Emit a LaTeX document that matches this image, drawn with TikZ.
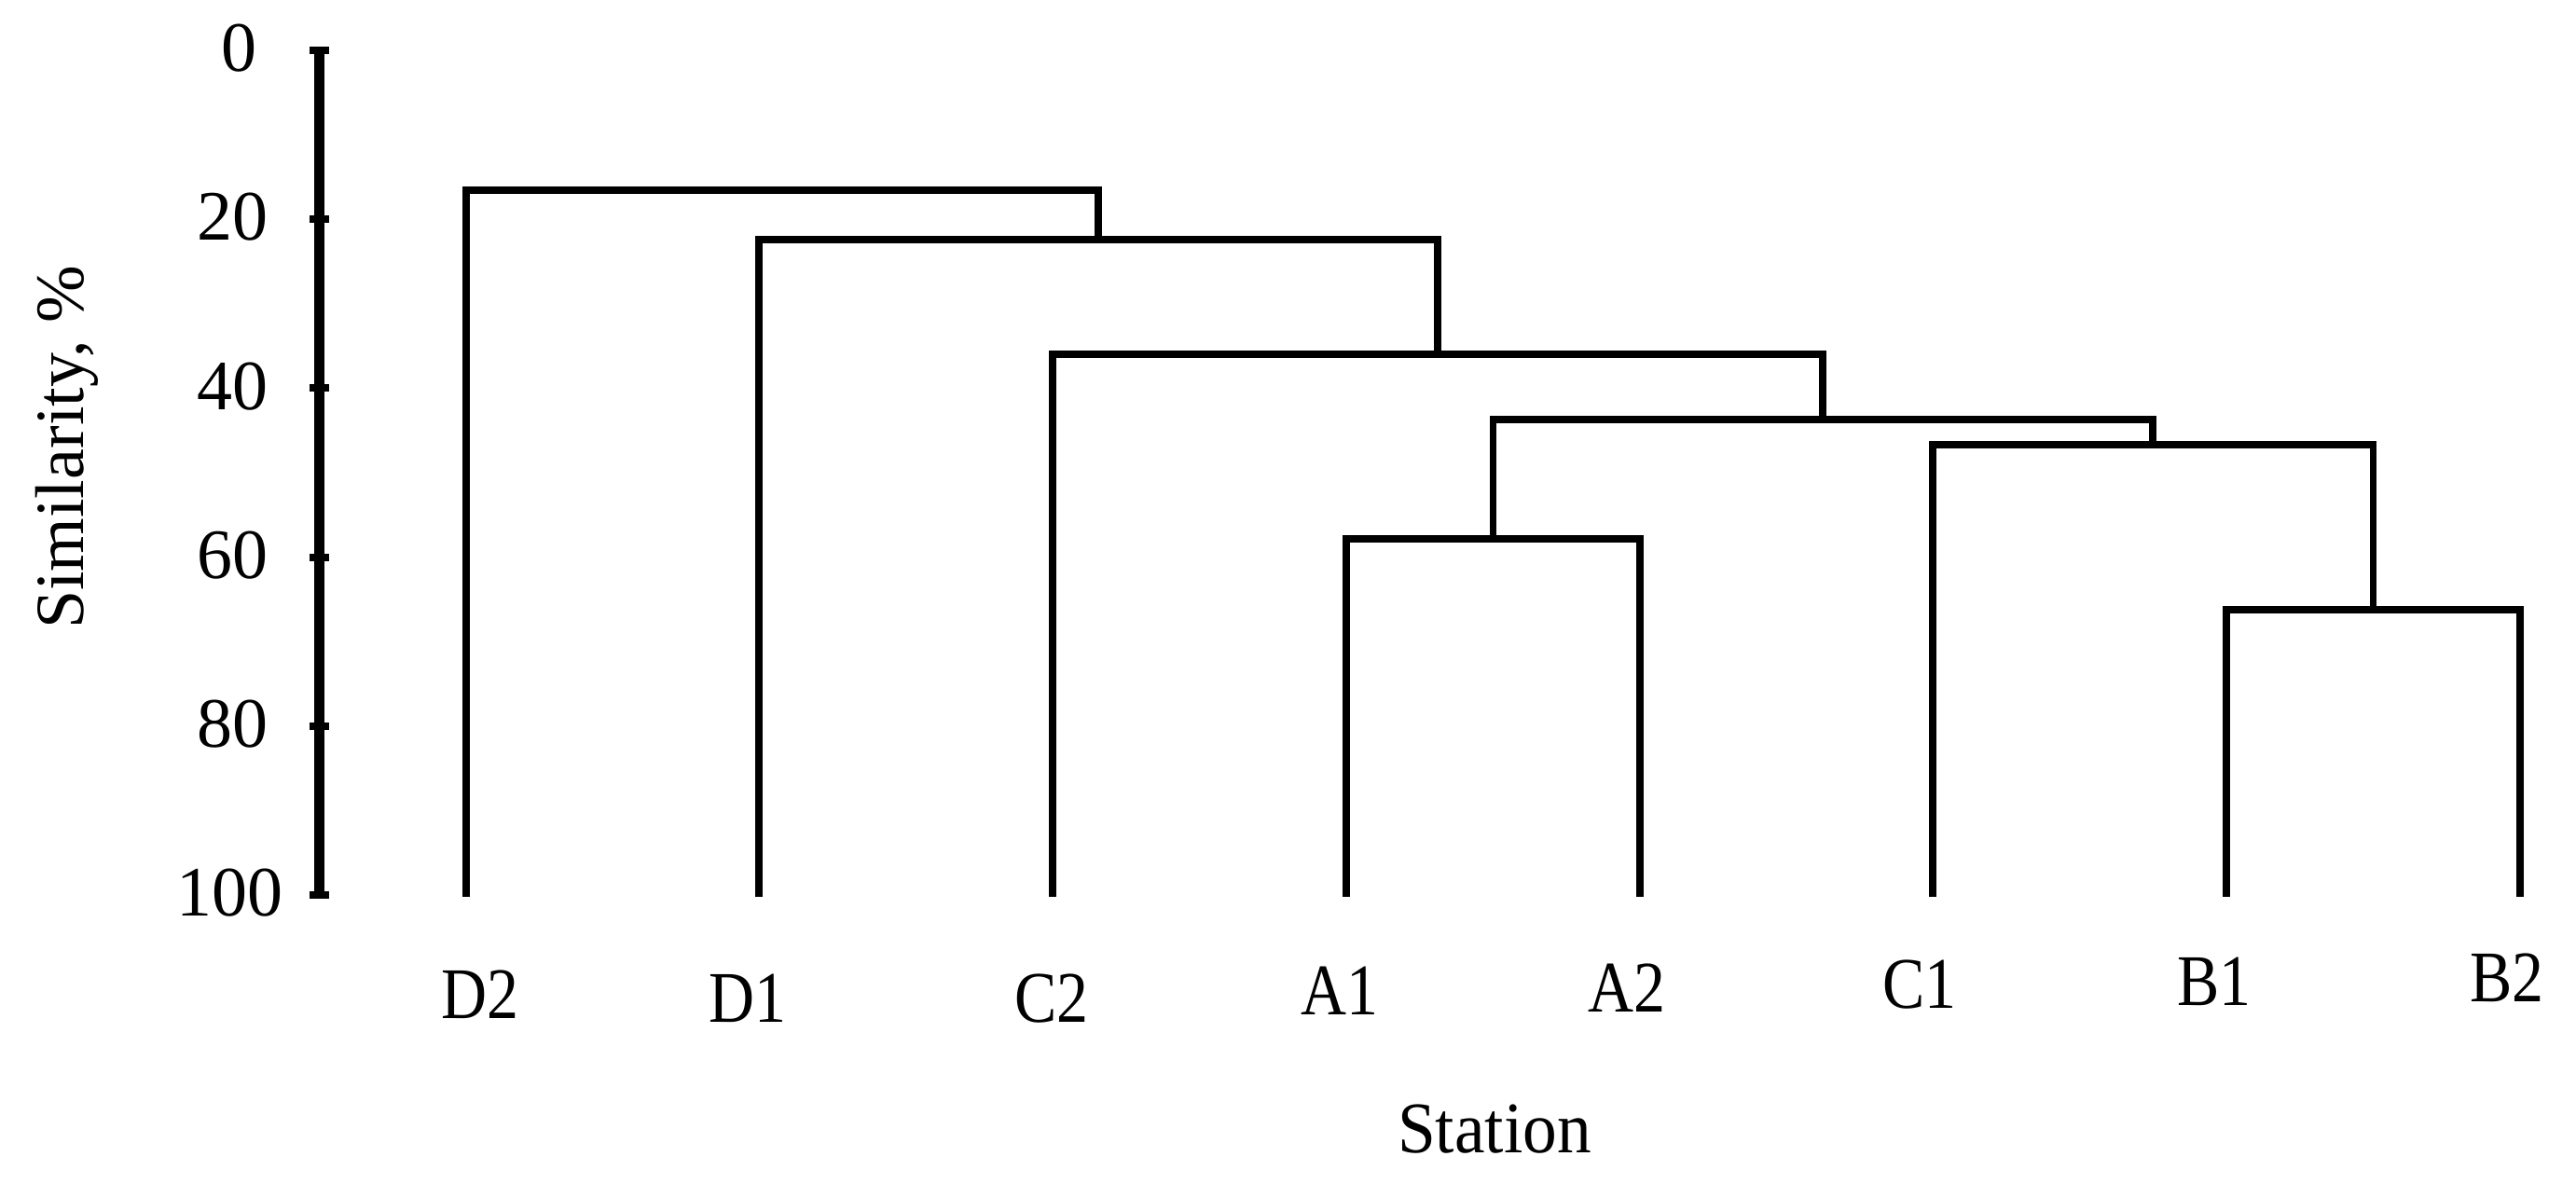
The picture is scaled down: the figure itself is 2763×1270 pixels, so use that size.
\documentclass[tikz,border=0pt]{standalone}
\usepackage{fontspec}
\usepackage{graphicx}
\setmainfont{Liberation Serif}
\tikzset{
  tree/.style={line width=1.95pt, line join=miter, black},
  axisline/.style={line width=2.6pt, black},
  tickmark/.style={line width=2pt, black},
  ticklabel/.style={inner sep=0pt, font=\fontsize{19}{21}\selectfont},
  leaflabel/.style={inner sep=0pt, font=\fontsize{19.5}{22}\selectfont},
  axistitle/.style={inner sep=0pt, font=\fontsize{18.5}{22}\selectfont}
}
\begin{document}
\begin{tikzpicture}[x=0.25pt,y=-0.25pt]
\useasboundingbox[fill=white] (0,0) rectangle (2763,1270);
% axis
\coordinate (ax0) at (342.5,54);
\coordinate (ax100) at (342.5,960);
\draw[axisline] (ax0) -- (ax100);
\foreach \v/\yy in {0/54,20/235.2,40/416.4,60/597.6,80/778.8,100/960}{
  \coordinate (t\v) at (342.5,\yy);
  \draw[tickmark] ([xshift=-2.6pt]t\v) -- ([xshift=2.6pt]t\v);
}
\node[ticklabel] (tl0) at (256,52) {0};
\node[ticklabel] (tl20) at (249,233) {20};
\node[ticklabel] (tl40) at (249,414.5) {40};
\node[ticklabel] (tl60) at (249,595.5) {60};
\node[ticklabel] (tl80) at (249,777) {80};
\node[ticklabel] (tl100) at (246,958) {100};
\node[axistitle, rotate=90] (ytitle) at (72,480) {Similarity, \%};
% leaves
\coordinate (D2) at (500,962);
\coordinate (D1) at (814,962);
\coordinate (C2) at (1129,962);
\coordinate (A1) at (1444,962);
\coordinate (A2) at (1759,962);
\coordinate (C1) at (2073,962);
\coordinate (B1) at (2388,962);
\coordinate (B2) at (2703,962);
% merges
\coordinate (mAA) at (1601.5,578);
\coordinate (mBB) at (2545.5,654);
\coordinate (mCBB) at (2309,477);
\coordinate (mACB) at (1955,450);
\coordinate (mC2) at (1542,380);
\coordinate (mD1) at (1178,257);
\coordinate (mD2) at (839,204);
% tree
\draw[tree] (A1) |- (mAA) -| (A2);
\draw[tree] (B1) |- (mBB) -| (B2);
\draw[tree] (C1) |- (mCBB) -| (mBB);
\draw[tree] (mAA) |- (mACB) -| (mCBB);
\draw[tree] (C2) |- (mC2) -| (mACB);
\draw[tree] (D1) |- (mD1) -| (mC2);
\draw[tree] (D2) |- (mD2) -| (mD1);
% leaf labels
\node[leaflabel] (lD2) at (515,1067) {\scalebox{0.87}[1]{D2}};
\node[leaflabel] (lD1) at (802,1071) {\scalebox{0.87}[1]{D1}};
\node[leaflabel] (lC2) at (1128,1071) {\scalebox{0.87}[1]{C2}};
\node[leaflabel] (lA1) at (1437,1063) {\scalebox{0.87}[1]{A1}};
\node[leaflabel] (lA2) at (1745,1060) {\scalebox{0.87}[1]{A2}};
\node[leaflabel] (lC1) at (2059,1056) {\scalebox{0.87}[1]{C1}};
\node[leaflabel] (lB1) at (2375,1053) {\scalebox{0.87}[1]{B1}};
\node[leaflabel] (lB2) at (2689,1049) {\scalebox{0.87}[1]{B2}};
\node[leaflabel] (xtitle) at (1603,1211) {\scalebox{0.94}[1]{Station}};
\end{tikzpicture}
\end{document}
